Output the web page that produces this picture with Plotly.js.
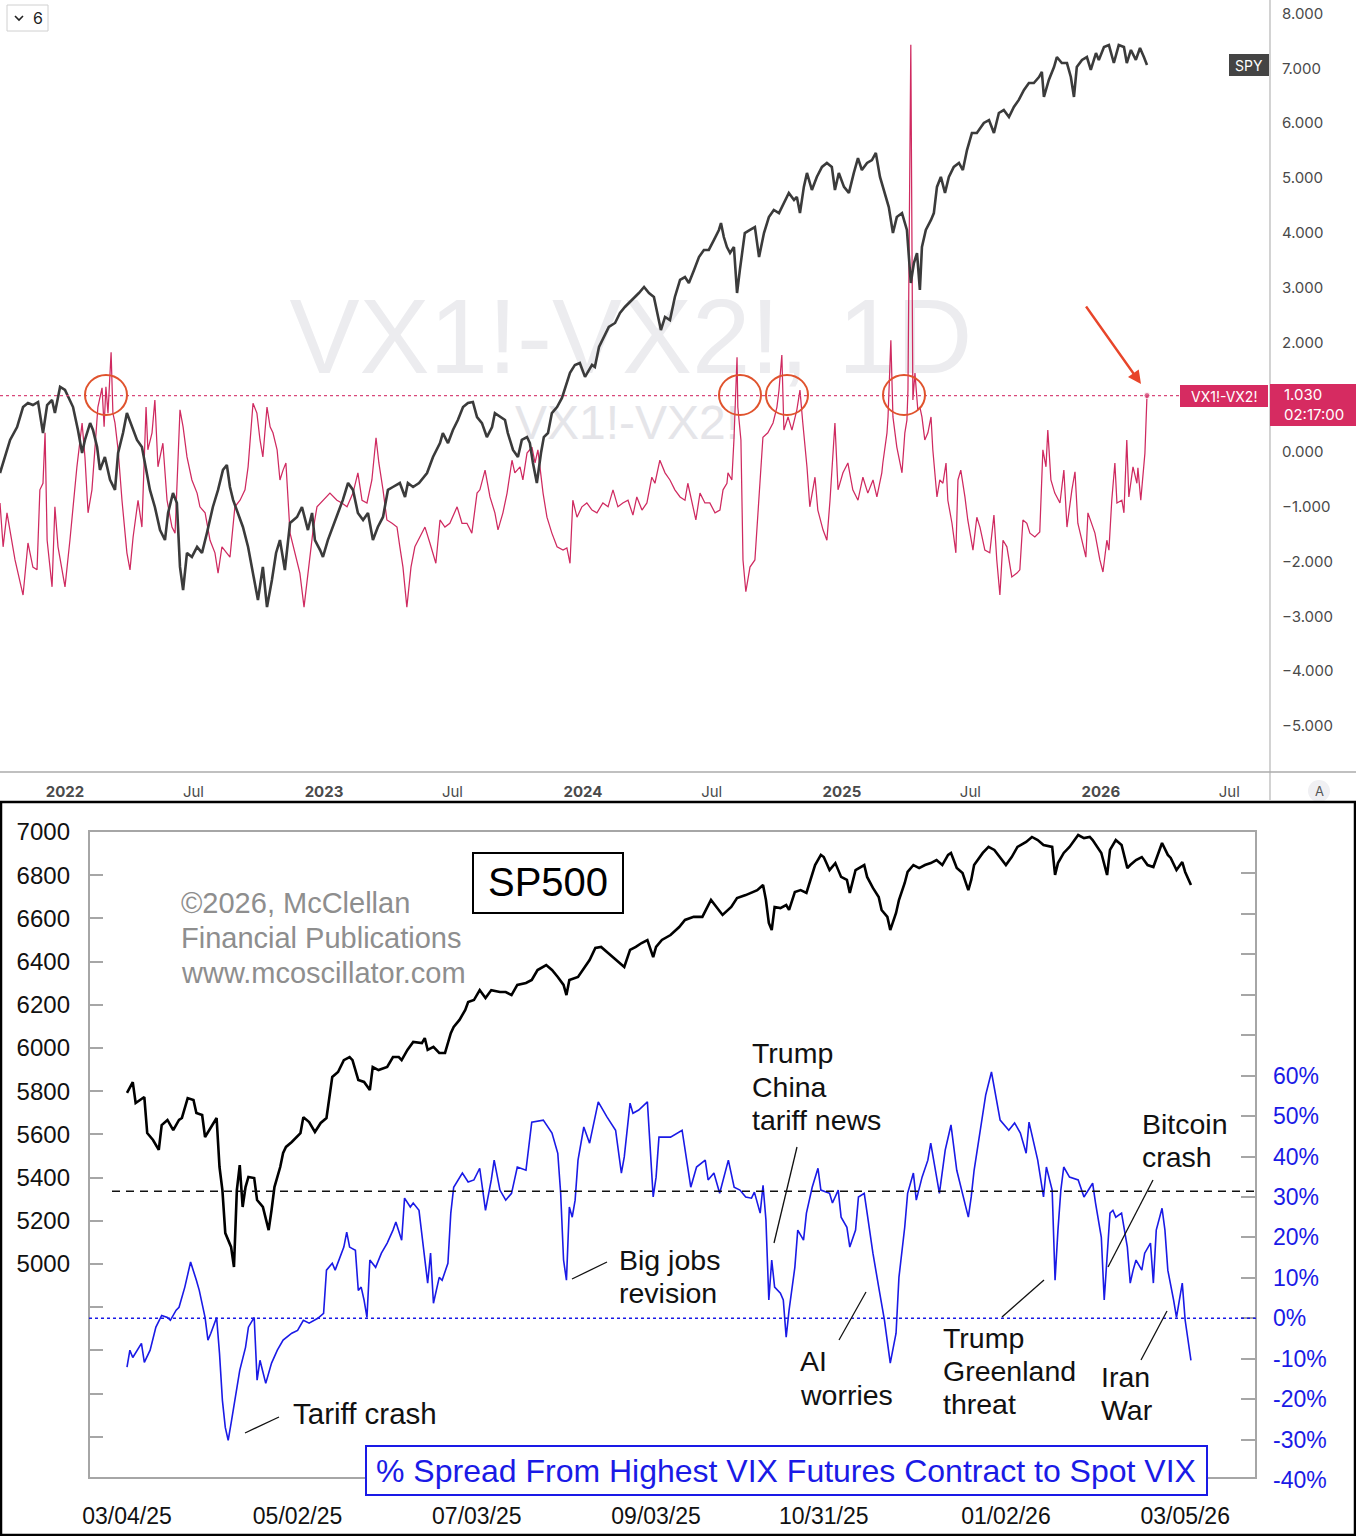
<!DOCTYPE html>
<html><head><meta charset="utf-8">
<script src="https://cdn.plot.ly/plotly-3.0.1.min.js"></script>
<style>html,body{margin:0;padding:0;background:#fff}#chart{width:1356px;height:1536px}</style>
</head><body><div id="chart"></div>
<script>
// ---------- TOP PANEL DATA (x = decimal year) ----------
const vxPoints = [[2021.749,-0.93],[2021.761,-1.73],[2021.776,-1.11],[2021.795,-1.66],[2021.807,-1.97],[2021.838,-2.61],[2021.857,-1.66],[2021.876,-2.10],[2021.892,-2.15],[2021.903,-0.69],[2021.915,-0.57],[2021.923,0.35],[2021.931,-1.61],[2021.950,-2.46],[2021.961,-1.00],[2021.973,-1.73],[2022.000,-2.46],[2022.019,-1.61],[2022.046,-0.27],[2022.066,0.53],[2022.077,-0.09],[2022.089,-1.11],[2022.104,-0.69],[2022.116,0.09],[2022.127,0.82],[2022.143,1.17],[2022.151,0.46],[2022.158,1.19],[2022.166,0.71],[2022.178,1.82],[2022.185,0.71],[2022.193,0.53],[2022.205,0.04],[2022.220,-0.88],[2022.239,-1.84],[2022.251,-2.15],[2022.263,-1.55],[2022.282,-0.88],[2022.297,-1.37],[2022.313,0.82],[2022.320,0.04],[2022.336,0.35],[2022.347,0.95],[2022.359,-0.27],[2022.378,0.16],[2022.394,-0.88],[2022.413,-1.37],[2022.425,-1.48],[2022.444,0.77],[2022.456,0.46],[2022.471,-0.09],[2022.490,-0.51],[2022.510,-0.75],[2022.521,-1.00],[2022.541,-1.11],[2022.560,-1.61],[2022.579,-1.84],[2022.591,-2.21],[2022.606,-1.73],[2022.637,-1.92],[2022.656,-1.00],[2022.676,-0.88],[2022.695,-0.69],[2022.707,-0.27],[2022.726,0.89],[2022.741,0.71],[2022.753,0.22],[2022.764,-0.09],[2022.780,0.82],[2022.792,0.46],[2022.803,0.35],[2022.819,0.04],[2022.830,-0.51],[2022.842,-0.33],[2022.853,-0.20],[2022.869,-1.48],[2022.888,-1.84],[2022.907,-2.21],[2022.923,-2.83],[2022.938,-2.21],[2022.958,-1.42],[2022.973,-1.00],[2022.996,-0.88],[2023.023,-0.75],[2023.050,-0.88],[2023.069,-0.93],[2023.089,-1.00],[2023.112,-0.75],[2023.131,-0.38],[2023.147,-0.88],[2023.166,-0.93],[2023.185,-0.51],[2023.201,0.26],[2023.212,-0.20],[2023.228,-0.69],[2023.243,-1.24],[2023.263,-1.30],[2023.282,-1.37],[2023.293,-1.73],[2023.305,-2.10],[2023.320,-2.83],[2023.336,-2.10],[2023.351,-1.73],[2023.363,-1.61],[2023.390,-1.37],[2023.409,-1.66],[2023.432,-2.03],[2023.448,-1.24],[2023.467,-1.37],[2023.486,-1.30],[2023.514,-1.00],[2023.533,-1.30],[2023.552,-1.30],[2023.571,-1.48],[2023.591,-0.75],[2023.602,-0.69],[2023.622,-0.33],[2023.641,-0.82],[2023.660,-1.11],[2023.672,-1.42],[2023.691,-1.11],[2023.707,-0.75],[2023.726,-0.15],[2023.737,-0.38],[2023.757,-0.27],[2023.768,-0.51],[2023.784,-0.02],[2023.803,0.09],[2023.815,-0.20],[2023.826,0.04],[2023.846,-0.75],[2023.861,-1.19],[2023.880,-1.48],[2023.900,-1.73],[2023.923,-1.79],[2023.938,-1.75],[2023.950,-2.03],[2023.961,-0.88],[2023.977,-1.19],[2023.996,-1.00],[2024.015,-0.93],[2024.035,-1.06],[2024.054,-1.11],[2024.077,-0.93],[2024.097,-1.00],[2024.116,-0.69],[2024.135,-1.00],[2024.154,-0.93],[2024.174,-0.88],[2024.193,-1.15],[2024.208,-0.82],[2024.228,-1.06],[2024.247,-0.93],[2024.266,-0.46],[2024.278,-0.57],[2024.297,-0.15],[2024.317,-0.38],[2024.336,-0.51],[2024.355,-0.69],[2024.375,-0.82],[2024.394,-0.88],[2024.405,-0.57],[2024.421,-0.93],[2024.436,-1.24],[2024.452,-0.75],[2024.471,-0.93],[2024.490,-0.93],[2024.510,-1.11],[2024.529,-1.06],[2024.541,-0.69],[2024.556,-0.57],[2024.560,-0.38],[2024.575,-0.51],[2024.583,0.22],[2024.595,1.73],[2024.598,0.82],[2024.610,0.22],[2024.618,-1.97],[2024.629,-2.55],[2024.645,-2.10],[2024.664,-1.97],[2024.676,-1.06],[2024.687,-0.38],[2024.695,0.27],[2024.714,0.35],[2024.734,0.53],[2024.749,0.82],[2024.757,1.13],[2024.768,1.77],[2024.776,0.40],[2024.792,0.64],[2024.807,0.40],[2024.826,0.77],[2024.838,1.13],[2024.849,0.53],[2024.865,-0.27],[2024.876,-1.00],[2024.896,-0.46],[2024.907,-1.06],[2024.927,-1.42],[2024.942,-1.61],[2024.954,-0.88],[2024.973,0.53],[2024.985,-0.69],[2025.004,-0.38],[2025.023,-0.20],[2025.042,-0.69],[2025.062,-0.88],[2025.081,-0.46],[2025.100,-0.75],[2025.120,-0.51],[2025.135,-0.82],[2025.154,-0.38],[2025.158,-0.20],[2025.174,0.35],[2025.178,0.64],[2025.189,2.04],[2025.197,0.64],[2025.212,0.09],[2025.232,-0.38],[2025.243,0.35],[2025.251,0.58],[2025.255,1.13],[2025.266,7.43],[2025.274,0.95],[2025.282,1.44],[2025.293,0.77],[2025.301,0.82],[2025.309,0.64],[2025.320,0.22],[2025.332,0.35],[2025.344,0.64],[2025.351,0.04],[2025.367,-0.82],[2025.378,-0.51],[2025.390,-0.57],[2025.402,-0.20],[2025.409,-0.88],[2025.425,-1.30],[2025.440,-1.84],[2025.448,-0.51],[2025.459,-0.33],[2025.475,-0.82],[2025.486,-1.24],[2025.506,-1.79],[2025.521,-1.19],[2025.533,-1.37],[2025.552,-1.79],[2025.571,-1.84],[2025.587,-1.15],[2025.598,-1.97],[2025.610,-2.61],[2025.622,-1.61],[2025.637,-1.73],[2025.656,-2.28],[2025.676,-2.21],[2025.687,-2.15],[2025.699,-1.24],[2025.714,-1.30],[2025.726,-1.48],[2025.745,-1.55],[2025.764,-1.46],[2025.776,0.04],[2025.788,-0.27],[2025.795,0.40],[2025.807,-0.51],[2025.822,-0.75],[2025.842,-0.93],[2025.857,-0.33],[2025.869,-1.37],[2025.888,-0.69],[2025.900,-0.36],[2025.911,-1.30],[2025.927,-1.61],[2025.942,-1.92],[2025.950,-1.11],[2025.965,-1.30],[2025.977,-1.48],[2025.996,-1.97],[2026.008,-2.19],[2026.023,-1.61],[2026.031,-1.79],[2026.042,-0.88],[2026.054,-0.20],[2026.062,-0.93],[2026.081,-0.88],[2026.089,-1.11],[2026.100,0.22],[2026.108,-0.82],[2026.124,-0.27],[2026.139,-0.57],[2026.143,-0.29],[2026.154,-0.88],[2026.162,-0.38],[2026.170,-0.02],[2026.178,1.03]];

const spyPoints = [[2021.749,429.6],[2021.768,438.4],[2021.788,447.8],[2021.815,454.9],[2021.838,465.9],[2021.857,468.1],[2021.876,467.0],[2021.896,468.7],[2021.915,451.6],[2021.931,467.0],[2021.950,469.8],[2021.961,462.6],[2021.981,477.0],[2022.000,475.3],[2022.012,471.5],[2022.031,465.9],[2022.050,453.3],[2022.066,440.6],[2022.077,447.8],[2022.097,457.1],[2022.108,453.3],[2022.124,443.9],[2022.135,431.3],[2022.154,438.4],[2022.174,425.8],[2022.193,420.3],[2022.205,440.6],[2022.224,451.6],[2022.239,462.6],[2022.259,454.9],[2022.278,447.8],[2022.297,443.9],[2022.317,429.6],[2022.328,420.3],[2022.347,410.9],[2022.367,398.2],[2022.386,392.7],[2022.398,407.6],[2022.417,418.6],[2022.432,413.1],[2022.444,377.9],[2022.456,365.2],[2022.471,385.6],[2022.490,383.4],[2022.510,388.9],[2022.529,385.6],[2022.548,396.6],[2022.571,410.9],[2022.591,420.3],[2022.610,431.3],[2022.625,434.0],[2022.637,421.9],[2022.649,414.8],[2022.668,407.6],[2022.687,399.9],[2022.707,388.9],[2022.726,374.6],[2022.745,359.7],[2022.764,377.9],[2022.780,355.8],[2022.799,370.7],[2022.815,385.6],[2022.830,392.7],[2022.849,376.2],[2022.869,402.1],[2022.896,405.4],[2022.915,410.9],[2022.927,403.7],[2022.938,398.2],[2022.954,407.6],[2022.965,392.7],[2022.985,387.2],[2022.996,383.4],[2023.015,392.7],[2023.035,399.9],[2023.054,407.6],[2023.073,414.8],[2023.093,424.1],[2023.112,420.3],[2023.131,407.6],[2023.151,403.7],[2023.170,407.6],[2023.189,392.7],[2023.208,399.9],[2023.228,405.4],[2023.247,420.3],[2023.266,421.9],[2023.293,424.1],[2023.313,416.4],[2023.324,424.1],[2023.344,421.9],[2023.367,424.1],[2023.398,429.6],[2023.421,438.4],[2023.448,446.1],[2023.459,451.6],[2023.479,446.1],[2023.498,453.3],[2023.517,458.8],[2023.537,465.9],[2023.556,468.1],[2023.575,468.7],[2023.591,460.4],[2023.610,457.1],[2023.629,449.4],[2023.649,454.9],[2023.660,462.6],[2023.680,460.4],[2023.699,458.8],[2023.710,451.6],[2023.730,442.3],[2023.749,438.4],[2023.764,447.8],[2023.784,449.4],[2023.795,446.1],[2023.807,435.1],[2023.822,424.1],[2023.838,440.6],[2023.849,449.4],[2023.865,451.6],[2023.880,462.6],[2023.900,465.9],[2023.919,470.9],[2023.950,484.7],[2023.969,489.1],[2023.988,490.2],[2024.008,482.5],[2024.035,489.1],[2024.046,488.0],[2024.062,499.0],[2024.081,504.5],[2024.100,510.0],[2024.124,512.2],[2024.143,517.7],[2024.162,521.0],[2024.189,524.8],[2024.216,528.7],[2024.236,532.0],[2024.255,528.7],[2024.274,526.5],[2024.286,517.7],[2024.301,508.3],[2024.317,515.5],[2024.336,513.8],[2024.355,526.5],[2024.375,535.9],[2024.394,537.5],[2024.409,534.2],[2024.429,541.4],[2024.448,548.5],[2024.467,552.4],[2024.486,552.4],[2024.506,557.9],[2024.525,563.4],[2024.533,567.2],[2024.544,559.5],[2024.556,554.0],[2024.568,550.7],[2024.583,554.0],[2024.595,528.7],[2024.606,541.4],[2024.625,561.7],[2024.645,563.4],[2024.664,565.0],[2024.680,548.5],[2024.699,561.7],[2024.718,570.5],[2024.737,574.4],[2024.757,572.7],[2024.776,578.2],[2024.795,583.8],[2024.815,579.9],[2024.826,581.6],[2024.838,572.7],[2024.853,587.1],[2024.865,594.8],[2024.884,585.4],[2024.903,592.6],[2024.923,598.1],[2024.942,600.3],[2024.961,598.1],[2024.973,585.4],[2024.988,594.8],[2025.008,587.1],[2025.027,583.8],[2025.046,594.8],[2025.062,603.0],[2025.077,596.4],[2025.097,600.3],[2025.116,601.9],[2025.131,605.8],[2025.147,592.6],[2025.166,583.8],[2025.181,576.0],[2025.197,561.7],[2025.212,570.5],[2025.232,572.7],[2025.251,563.4],[2025.266,534.2],[2025.278,545.2],[2025.290,550.7],[2025.301,530.4],[2025.309,554.0],[2025.324,563.4],[2025.344,568.9],[2025.355,572.7],[2025.367,587.1],[2025.382,592.6],[2025.398,583.8],[2025.413,592.6],[2025.432,598.1],[2025.452,600.3],[2025.467,596.4],[2025.483,607.4],[2025.502,616.8],[2025.521,616.8],[2025.548,622.3],[2025.568,623.9],[2025.587,616.8],[2025.606,627.8],[2025.625,629.4],[2025.645,625.6],[2025.664,631.1],[2025.683,635.0],[2025.703,640.5],[2025.722,644.3],[2025.741,644.3],[2025.761,647.6],[2025.772,650.4],[2025.780,636.6],[2025.799,646.0],[2025.819,653.1],[2025.830,658.6],[2025.849,655.3],[2025.869,655.3],[2025.884,647.6],[2025.896,636.6],[2025.907,653.1],[2025.927,657.0],[2025.946,658.6],[2025.961,651.5],[2025.981,660.8],[2025.992,657.0],[2026.012,664.1],[2026.031,665.2],[2026.050,655.3],[2026.069,665.2],[2026.089,664.1],[2026.100,655.3],[2026.116,662.5],[2026.135,657.0],[2026.151,663.6],[2026.166,658.6],[2026.178,654.2]];

const topTickVals = [2022,2022.496,2023,2023.496,2024,2024.497,2025,2025.496,2026,2026.496];
const topTickText = ['<b>2022</b>','Jul','<b>2023</b>','Jul','<b>2024</b>','Jul','<b>2025</b>','Jul','<b>2026</b>','Jul'];
const topYTickVals = [-5,-4,-3,-2,-1,0,1,2,3,4,5,6,7,8];
const lastSpread = 1.03;

// ---------- BOTTOM PANEL DATA ----------
const spxPoints = [['2025-03-04',5792],['2025-03-06',5842],['2025-03-07',5745],['2025-03-10',5773],['2025-03-11',5606],['2025-03-13',5574],['2025-03-15',5528],['2025-03-16',5643],['2025-03-18',5667],['2025-03-20',5620],['2025-03-22',5667],['2025-03-23',5676],['2025-03-25',5768],['2025-03-27',5759],['2025-03-28',5699],['2025-03-30',5690],['2025-03-31',5588],['2025-04-02',5630],['2025-04-04',5676],['2025-04-05',5449],['2025-04-06',5342],['2025-04-07',5143],['2025-04-09',5079],['2025-04-10',4986],['2025-04-11',5342],['2025-04-12',5458],['2025-04-13',5264],['2025-04-14',5356],['2025-04-15',5403],['2025-04-17',5398],['2025-04-18',5296],['2025-04-20',5264],['2025-04-22',5157],['2025-04-23',5250],['2025-04-24',5356],['2025-04-26',5449],['2025-04-27',5514],['2025-04-28',5542],['2025-04-30',5565],['2025-05-03',5606],['2025-05-04',5680],['2025-05-06',5657],['2025-05-08',5611],['2025-05-10',5653],['2025-05-12',5676],['2025-05-14',5866],['2025-05-16',5889],['2025-05-18',5944],['2025-05-20',5958],['2025-05-21',5944],['2025-05-23',5852],['2025-05-25',5843],['2025-05-27',5805],['2025-05-28',5912],['2025-05-30',5898],['2025-06-02',5912],['2025-06-04',5958],['2025-06-06',5958],['2025-06-07',5944],['2025-06-09',5991],['2025-06-11',6028],['2025-06-14',6023],['2025-06-15',6046],['2025-06-16',5991],['2025-06-18',6005],['2025-06-20',5977],['2025-06-22',5977],['2025-06-24',6069],['2025-06-25',6097],['2025-06-27',6130],['2025-06-29',6176],['2025-06-30',6213],['2025-07-02',6222],['2025-07-04',6268],['2025-07-06',6231],['2025-07-08',6268],['2025-07-11',6259],['2025-07-13',6259],['2025-07-15',6245],['2025-07-17',6292],['2025-07-20',6301],['2025-07-22',6315],['2025-07-24',6361],['2025-07-27',6384],['2025-07-29',6361],['2025-07-31',6329],['2025-08-02',6292],['2025-08-03',6245],['2025-08-04',6315],['2025-08-07',6329],['2025-08-09',6370],['2025-08-11',6407],['2025-08-13',6463],['2025-08-15',6468],['2025-08-17',6444],['2025-08-19',6421],['2025-08-23',6375],['2025-08-25',6454],['2025-08-27',6468],['2025-08-29',6486],['2025-08-31',6500],['2025-09-02',6421],['2025-09-03',6468],['2025-09-05',6500],['2025-09-08',6523],['2025-09-11',6560],['2025-09-13',6593],['2025-09-16',6607],['2025-09-19',6607],['2025-09-22',6685],['2025-09-24',6653],['2025-09-26',6616],['2025-09-29',6653],['2025-10-01',6694],['2025-10-04',6708],['2025-10-06',6718],['2025-10-08',6731],['2025-10-10',6755],['2025-10-11',6685],['2025-10-12',6579],['2025-10-13',6546],['2025-10-14',6653],['2025-10-16',6648],['2025-10-18',6662],['2025-10-19',6639],['2025-10-21',6722],['2025-10-23',6731],['2025-10-25',6718],['2025-10-26',6764],['2025-10-28',6847],['2025-10-30',6894],['2025-10-31',6884],['2025-11-02',6824],['2025-11-04',6856],['2025-11-06',6792],['2025-11-08',6778],['2025-11-09',6718],['2025-11-11',6824],['2025-11-14',6847],['2025-11-15',6792],['2025-11-17',6741],['2025-11-19',6699],['2025-11-20',6639],['2025-11-22',6607],['2025-11-23',6546],['2025-11-25',6625],['2025-11-26',6685],['2025-11-28',6764],['2025-11-29',6815],['2025-12-01',6847],['2025-12-03',6833],['2025-12-05',6847],['2025-12-07',6856],['2025-12-09',6870],['2025-12-11',6847],['2025-12-13',6894],['2025-12-14',6903],['2025-12-16',6833],['2025-12-18',6810],['2025-12-20',6731],['2025-12-21',6778],['2025-12-22',6847],['2025-12-25',6903],['2025-12-27',6931],['2025-12-29',6917],['2025-12-31',6880],['2026-01-02',6847],['2026-01-04',6884],['2026-01-06',6931],['2026-01-09',6954],['2026-01-11',6977],['2026-01-13',6963],['2026-01-15',6940],['2026-01-18',6931],['2026-01-19',6801],['2026-01-20',6856],['2026-01-22',6903],['2026-01-24',6931],['2026-01-27',6986],['2026-01-29',6972],['2026-01-31',6977],['2026-02-01',6963],['2026-02-04',6903],['2026-02-06',6801],['2026-02-07',6917],['2026-02-09',6963],['2026-02-11',6940],['2026-02-13',6833],['2026-02-14',6847],['2026-02-16',6870],['2026-02-18',6884],['2026-02-20',6847],['2026-02-22',6838],['2026-02-25',6949],['2026-02-27',6894],['2026-02-28',6880],['2026-03-02',6824],['2026-03-04',6861],['2026-03-05',6815],['2026-03-07',6755]];

const spreadPoints = [['2025-03-04',-12.1],['2025-03-05',-7.9],['2025-03-06',-9.7],['2025-03-08',-7.2],['2025-03-09',-6.2],['2025-03-10',-10.9],['2025-03-12',-7.9],['2025-03-14',-2.2],['2025-03-16',0.7],['2025-03-18',0.2],['2025-03-19',-0.5],['2025-03-21',2.0],['2025-03-22',2.7],['2025-03-24',7.7],['2025-03-26',13.9],['2025-03-28',9.4],['2025-03-29',6.9],['2025-03-31',0.2],['2025-04-01',-5.4],['2025-04-02',-3.7],['2025-04-04',0.2],['2025-04-05',-8.7],['2025-04-06',-20.3],['2025-04-07',-27.0],['2025-04-08',-30.2],['2025-04-09',-26.0],['2025-04-11',-17.1],['2025-04-12',-12.9],['2025-04-14',-7.2],['2025-04-15',-2.2],['2025-04-17',0.2],['2025-04-18',-15.3],['2025-04-19',-10.4],['2025-04-21',-16.1],['2025-04-23',-11.1],['2025-04-25',-7.9],['2025-04-27',-5.4],['2025-04-30',-3.7],['2025-05-02',-3.0],['2025-05-04',-0.5],['2025-05-06',-1.2],['2025-05-09',0.0],['2025-05-11',1.2],['2025-05-12',11.9],['2025-05-14',13.6],['2025-05-15',11.9],['2025-05-18',17.6],['2025-05-19',21.3],['2025-05-20',17.6],['2025-05-22',16.8],['2025-05-23',6.9],['2025-05-24',7.7],['2025-05-25',4.5],['2025-05-26',0.2],['2025-05-27',14.4],['2025-05-29',12.6],['2025-05-31',16.1],['2025-06-02',18.6],['2025-06-04',21.8],['2025-06-05',23.8],['2025-06-07',19.3],['2025-06-08',29.7],['2025-06-10',27.5],['2025-06-11',28.5],['2025-06-13',26.7],['2025-06-14',21.0],['2025-06-16',8.7],['2025-06-17',16.1],['2025-06-18',3.7],['2025-06-20',10.1],['2025-06-21',9.4],['2025-06-23',13.6],['2025-06-24',26.0],['2025-06-25',32.4],['2025-06-28',35.9],['2025-06-30',33.7],['2025-07-02',34.2],['2025-07-04',37.1],['2025-07-06',26.7],['2025-07-08',34.2],['2025-07-09',39.1],['2025-07-11',31.7],['2025-07-13',29.2],['2025-07-15',30.9],['2025-07-17',37.4],['2025-07-20',36.6],['2025-07-22',48.5],['2025-07-26',49.0],['2025-07-29',45.8],['2025-07-31',40.8],['2025-08-01',30.9],['2025-08-02',14.4],['2025-08-03',9.4],['2025-08-04',27.5],['2025-08-05',25.0],['2025-08-06',29.2],['2025-08-07',39.1],['2025-08-09',47.3],['2025-08-11',43.3],['2025-08-14',53.5],['2025-08-17',49.8],['2025-08-20',46.5],['2025-08-22',35.9],['2025-08-23',39.9],['2025-08-25',53.2],['2025-08-26',50.7],['2025-08-28',51.5],['2025-08-31',53.5],['2025-09-01',42.3],['2025-09-02',30.0],['2025-09-03',34.9],['2025-09-04',44.8],['2025-09-08',44.8],['2025-09-12',46.5],['2025-09-15',32.4],['2025-09-17',37.4],['2025-09-20',39.1],['2025-09-21',34.2],['2025-09-23',35.9],['2025-09-25',30.9],['2025-09-28',39.1],['2025-09-30',32.4],['2025-10-02',31.7],['2025-10-04',30.0],['2025-10-06',29.7],['2025-10-07',31.2],['2025-10-09',26.0],['2025-10-10',32.9],['2025-10-11',24.3],['2025-10-12',4.5],['2025-10-13',14.4],['2025-10-14',7.7],['2025-10-16',6.2],['2025-10-17',4.5],['2025-10-18',-4.7],['2025-10-19',2.0],['2025-10-21',12.6],['2025-10-22',21.8],['2025-10-24',19.3],['2025-10-25',26.0],['2025-10-27',32.4],['2025-10-29',37.1],['2025-10-30',31.7],['2025-11-02',30.9],['2025-11-03',28.5],['2025-11-05',31.7],['2025-11-06',25.0],['2025-11-08',22.5],['2025-11-09',17.6],['2025-11-11',21.8],['2025-11-12',30.0],['2025-11-14',30.9],['2025-11-15',26.0],['2025-11-17',16.1],['2025-11-19',7.7],['2025-11-21',-0.5],['2025-11-23',-11.1],['2025-11-25',-3.7],['2025-11-26',10.1],['2025-11-28',22.5],['2025-11-29',30.9],['2025-12-01',35.9],['2025-12-02',29.2],['2025-12-04',34.9],['2025-12-06',39.1],['2025-12-07',43.3],['2025-12-10',30.9],['2025-12-12',41.6],['2025-12-14',47.8],['2025-12-16',36.6],['2025-12-20',25.0],['2025-12-21',30.0],['2025-12-22',36.6],['2025-12-25',49.8],['2025-12-26',55.2],['2025-12-28',60.9],['2025-12-31',49.0],['2026-01-03',46.5],['2026-01-05',48.3],['2026-01-07',45.8],['2026-01-09',40.8],['2026-01-10',48.5],['2026-01-13',39.1],['2026-01-15',30.0],['2026-01-16',37.4],['2026-01-18',31.7],['2026-01-19',9.4],['2026-01-20',21.8],['2026-01-21',31.7],['2026-01-22',37.4],['2026-01-24',34.9],['2026-01-27',34.2],['2026-01-29',30.0],['2026-02-01',33.4],['2026-02-02',28.5],['2026-02-04',20.0],['2026-02-05',4.5],['2026-02-07',26.0],['2026-02-08',26.7],['2026-02-09',25.0],['2026-02-11',26.0],['2026-02-13',17.6],['2026-02-14',8.7],['2026-02-15',11.9],['2026-02-16',14.4],['2026-02-18',11.9],['2026-02-19',16.1],['2026-02-21',18.6],['2026-02-22',8.7],['2026-02-23',21.8],['2026-02-25',27.2],['2026-02-26',21.8],['2026-02-27',11.9],['2026-03-01',4.5],['2026-03-02',0.2],['2026-03-03',4.5],['2026-03-04',8.7],['2026-03-05',-0.5],['2026-03-06',-5.4],['2026-03-07',-10.4]];

const bottomDateTicks = ['2025-03-04','2025-05-02','2025-07-03','2025-09-03','2025-10-31','2026-01-02','2026-03-05'];
const bottomDateLabels = ['03/04/25','05/02/25','07/03/25','09/03/25','10/31/25','01/02/26','03/05/26'];
const spxTickVals = [4200,4400,4600,4800,5000,5200,5400,5600,5800,6000,6200,6400,6600,6800,7000];
const pctTickVals = [-40,-30,-20,-10,0,10,20,30,40,50,60,70,80,90,100,110];
const dashedLevelPct = 31.4;

// ---------- helpers ----------
const W = 1356, H = 1536;
const px = x => x / W;
const py = y => 1 - y / H;
const TOPF = 'Inter, Roboto, sans-serif';
const BOTF = 'Liberation Sans, Arial, sans-serif';
const CRIMSON = '#cf2a60';

const topYText = topYTickVals.map(v => v === 1 ? '' : (v < 0 ? '\u2212' : '') + Math.abs(v).toFixed(3));
const spxTickText = spxTickVals.map(v => v >= 5000 ? String(v) : '');
const pctTickText = pctTickVals.map(v => v <= 60 ? v + '%' : '');

const vxX = vxPoints.map(p => p[0]), vxY = vxPoints.map(p => p[1]);
const markerSizes = vxPoints.map((p, i) => i === vxPoints.length - 1 ? 6 : 0);

const traces = [
  {x:[2024.185], y:[1.92], xaxis:'x', yaxis:'y', mode:'text', text:['VX1!-VX2!, 1D'],
   textfont:{family:'Liberation Sans, Arial', size:105, color:'#ececef'}, hoverinfo:'skip'},
  {x:[2024.170], y:[0.45], xaxis:'x', yaxis:'y', mode:'text', text:['VX1!-VX2!'],
   textfont:{family:'Liberation Sans, Arial', size:48, color:'#e5e5e9'}, hoverinfo:'skip'},
  {x:vxX, y:vxY, xaxis:'x', yaxis:'y', mode:'lines+markers', name:'VX1!-VX2!',
   line:{color:CRIMSON, width:1.25}, marker:{size:markerSizes, color:CRIMSON}},
  {x:spyPoints.map(p=>p[0]), y:spyPoints.map(p=>p[1]), xaxis:'x', yaxis:'y2', mode:'lines', name:'SPY',
   line:{color:'#3b3b3b', width:2.6}},
  {x:spxPoints.map(p=>p[0]), y:spxPoints.map(p=>p[1]), xaxis:'x2', yaxis:'y3', mode:'lines', name:'SP500',
   line:{color:'#000000', width:2.6}},
  {x:spreadPoints.map(p=>p[0]), y:spreadPoints.map(p=>p[1]), xaxis:'x2', yaxis:'y4', mode:'lines', name:'Spread',
   line:{color:'#1a1ae6', width:1.6}}
];

function rect(x0,y0,x1,y1,line,fill,layer){return {type:'rect',xref:'paper',yref:'paper',x0:px(x0),x1:px(x1),y0:py(y1),y1:py(y0),line:line,fillcolor:fill||'rgba(0,0,0,0)',layer:layer||'above'};}
function seg(x0,y0,x1,y1,color,width,dash){return {type:'line',xref:'paper',yref:'paper',x0:px(x0),y0:py(y0),x1:px(x1),y1:py(y1),line:{color:color,width:width,dash:dash||'solid'},layer:'above'};}
function circ(cx,cy,rx,ry){return {type:'circle',xref:'paper',yref:'paper',x0:px(cx-rx),x1:px(cx+rx),y0:py(cy+ry),y1:py(cy-ry),line:{color:'#e0532d',width:2},layer:'above'};}

const shapes = [
  // top panel frame
  seg(1270,0,1270,800,'#b5b5b5',1.2),
  seg(0,772,1356,772,'#ababab',1.5),
  {type:'line',xref:'paper',yref:'y',x0:0,x1:px(1180),y0:lastSpread,y1:lastSpread,line:{color:'#d8487a',width:1.2,dash:'dot'},layer:'above'},
  circ(106,395,21,20), circ(740,395,21,20), circ(787,395,21,20), circ(904,395,21,20),
  rect(1180,385,1268,407,{width:0},'#d62b61'),
  rect(1270,384,1356,426,{width:0},'#d62b61'),
  rect(1229,54,1269,76,{width:0},'#444444'),
  rect(7,5,48,31,{color:'#d0d0d0',width:1},'#ffffff'),
  {type:'path',xref:'paper',yref:'paper',path:`M ${px(15)} ${py(16)} L ${px(19)} ${py(20)} L ${px(23)} ${py(16)}`,line:{color:'#222',width:1.6},layer:'above'},
  {type:'circle',xref:'paper',yref:'paper',x0:px(1308),x1:px(1330),y0:py(802),y1:py(780),line:{width:0},fillcolor:'#f0f0f3',layer:'below'},
  // bottom panel frame
  rect(1,802,1355,1535,{color:'#000',width:2.5}),
  rect(89,831,1256,1478,{color:'#a6a6a6',width:2},null,'below'),
  {type:'line',xref:'paper',yref:'y4',x0:px(112),x1:px(1256),y0:dashedLevelPct,y1:dashedLevelPct,line:{color:'#111',width:1.6,dash:'8px,6px'},layer:'above'},
  {type:'line',xref:'paper',yref:'y4',x0:px(89),x1:px(1256),y0:0,y1:0,line:{color:'#1a1ae6',width:1.4,dash:'dot'},layer:'above'},
  rect(473,853,623,913,{color:'#000',width:2},'#ffffff'),
  rect(366,1446,1207,1495,{color:'#1a1ae6',width:2},'#ffffff'),
  // pointer lines
  seg(245,1433,279,1417,'#111',1.3),
  seg(572,1279,607,1262,'#111',1.3),
  seg(774,1243,797,1147,'#111',1.3),
  seg(839,1340,866,1292,'#111',1.3),
  seg(1002,1317,1044,1280,'#111',1.3),
  seg(1108,1267,1153,1180,'#111',1.3),
  seg(1141,1360,1167,1311,'#111',1.3)
];

function txt(t,x,y,size,color,fam,xa,extra){return Object.assign({text:t,x:px(x),y:py(y),xref:'paper',yref:'paper',showarrow:false,xanchor:xa||'left',yanchor:'middle',font:{family:fam,size:size,color:color}},extra||{});}

const LBL = 28.5;
const annotations = [
  txt('6',38,18,16,'#222',TOPF,'center'),
  txt('SPY',1249,65,14,'#ffffff',TOPF,'center'),
  txt('VX1!-VX2!',1224,396,14,'#ffffff',TOPF,'center'),
  txt('1.030',1282,395,15,'#ffffff',TOPF,'left'),
  txt('02:17:00',1282,414,15,'#ffffff',TOPF,'left'),
  txt('A',1319,791,13,'#555',TOPF,'center'),
  {text:'',x:px(1141),y:py(384),xref:'paper',yref:'paper',showarrow:true,ax:-56,ay:-79,arrowhead:2,arrowsize:1.1,arrowwidth:2.4,arrowcolor:'#e8452a'},
  // bottom texts
  txt('SP500',548,882,40,'#000',BOTF,'center'),
  txt('\u00a92026, McClellan',179,903,29,'#8e8e8e',BOTF),
  txt('Financial Publications',179,938,29,'#8e8e8e',BOTF),
  txt('www.mcoscillator.com',179,973,29,'#8e8e8e',BOTF),
  txt('Trump',750,1053,LBL,'#111',BOTF),
  txt('China',750,1087,LBL,'#111',BOTF),
  txt('tariff news',750,1120,LBL,'#111',BOTF),
  txt('Bitcoin',1140,1124,LBL,'#111',BOTF),
  txt('crash',1140,1157,LBL,'#111',BOTF),
  txt('Big jobs',617,1260,LBL,'#111',BOTF),
  txt('revision',617,1293,LBL,'#111',BOTF),
  txt('AI',798,1361,LBL,'#111',BOTF),
  txt('worries',798,1395,LBL,'#111',BOTF),
  txt('Trump',941,1338,LBL,'#111',BOTF),
  txt('Greenland',941,1371,LBL,'#111',BOTF),
  txt('threat',941,1404,LBL,'#111',BOTF),
  txt('Iran',1099,1377,LBL,'#111',BOTF),
  txt('War',1099,1410,LBL,'#111',BOTF),
  txt('Tariff crash',291,1413,LBL+1,'#111',BOTF),
  txt('% Spread From Highest VIX Futures Contract to Spot VIX',786,1471,32,'#1a1ae6',BOTF,'center')
];

const layout = {
  width:W, height:H, margin:{l:0,r:0,t:0,b:0,pad:0},
  paper_bgcolor:'#ffffff', plot_bgcolor:'rgba(0,0,0,0)',
  showlegend:false, hovermode:false,
  xaxis:{domain:[0,px(1270)], range:[2021.749,2026.653], anchor:'y', tickmode:'array', tickvals:topTickVals, ticktext:topTickText,
    showgrid:false, zeroline:false, showline:false, ticks:'', tickfont:{family:TOPF,size:15,color:'#4a4a4a'}, ticklabelstandoff:9},
  yaxis:{domain:[py(772),1], range:[-5.839,8.248], anchor:'x', side:'right', tickmode:'array', tickvals:topYTickVals, ticktext:topYText,
    showgrid:false, zeroline:false, showline:false, ticks:'', tickfont:{family:TOPF,size:15,color:'#4a4a4a'}, ticklabelstandoff:11},
  yaxis2:{overlaying:'y', anchor:'x', side:'right', range:[265,690], visible:false},
  xaxis2:{domain:[px(89),px(1256)], type:'date', range:['2025-02-18 20:40','2026-03-29 12:00'], anchor:'y3',
    tickmode:'array', tickvals:bottomDateTicks, ticktext:bottomDateLabels, showgrid:false, zeroline:false, showline:false, ticks:'',
    tickfont:{family:BOTF,size:23,color:'#111'}, ticklabelstandoff:20},
  yaxis3:{domain:[py(1480),py(831)], range:[4000,7004.6], anchor:'x2', side:'left', tickmode:'array', tickvals:spxTickVals, ticktext:spxTickText,
    ticks:'inside', ticklen:14, tickwidth:2, tickcolor:'#a6a6a6', showgrid:false, zeroline:false, showline:false,
    tickfont:{family:BOTF,size:24,color:'#111'}, ticklabelstandoff:18},
  yaxis4:{overlaying:'y3', anchor:'x2', side:'right', range:[-40,120.5], tickmode:'array', tickvals:pctTickVals, ticktext:pctTickText,
    ticks:'inside', ticklen:15, tickwidth:2, tickcolor:'#a6a6a6', showgrid:false, zeroline:false, showline:false,
    tickfont:{family:BOTF,size:23,color:'#1a1ae6'}, ticklabelstandoff:16},
  shapes:shapes, annotations:annotations
};

Plotly.newPlot('chart', traces, layout, {staticPlot:true, displayModeBar:false});
</script></body></html>
